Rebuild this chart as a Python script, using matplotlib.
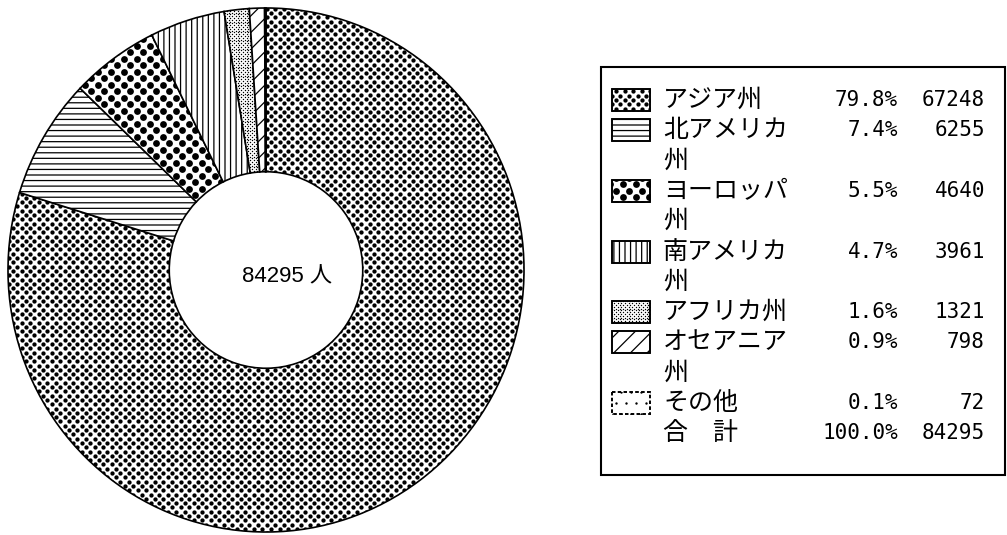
import numpy as np
import matplotlib
matplotlib.use('Agg')
import matplotlib.pyplot as plt
from matplotlib.patches import Rectangle

# ---- data ----
legend_labels = ['アジア州', '北アメリカ\n州', 'ヨーロッパ\n州', '南アメリカ\n州',
                 'アフリカ州', 'オセアニア\n州', 'その他']
counts = [67248, 6255, 4640, 3961, 1321, 798, 72]
percents = [79.8, 7.4, 5.5, 4.7, 1.6, 0.9, 0.1]
total_label = '合　計'
total_pct = 100.0
total_count = 84295
center_text = '84295 人'

# ---- styles: ('dots', spacing, row height, dot diameter) or ('hatch', pattern, lw) ----
patterns = [('dots', 8.6, 4.3, 4.3),
            ('hatch', '---', 0.9),
            ('dots', 13.0, 6.5, 6.8),
            ('hatch', '|||', 0.9),
            ('dots', 3.6, 1.8, 1.4),
            ('hatch', '//', 0.9),
            ('dots', 10.0, 11.0, 2.4)]

JP = ['Noto Sans CJK JP', 'DejaVu Sans']
MONO = ['DejaVu Sans Mono', 'Noto Sans CJK JP']

W, H = 1007, 535
fig = plt.figure(figsize=(W / 100, H / 100), dpi=100)
fig.patch.set_facecolor('white')


def set_hlw(p, lw):
    if hasattr(p, 'set_hatch_linewidth'):
        p.set_hatch_linewidth(lw)


def lattice(x0, x1, y0, y1, a, rowh, ox=0.0, oy=0.0):
    j = np.arange(int(np.floor((y0 - oy) / rowh)) - 1, int(np.ceil((y1 - oy) / rowh)) + 2)
    i = np.arange(int(np.floor((x0 - ox) / a)) - 2, int(np.ceil((x1 - ox) / a)) + 2)
    I, J = np.meshgrid(i, j)
    X = ox + I * a + (J % 2) * a / 2.0
    Y = oy + J * rowh
    return X.ravel(), Y.ravel()


# ---- donut ----
cx, cy, rx, ry = 266, 270, 258, 262
ax = fig.add_axes([(cx - rx) / W, (H - cy - ry) / H, 2 * rx / W, 2 * ry / H])
wedges, _ = ax.pie(counts, startangle=90, counterclock=False, radius=1,
                   colors=['white'] * len(counts),
                   wedgeprops=dict(width=0.625, edgecolor='black', linewidth=1.2))
ax.set_aspect('auto')
ax.set_xlim(-1, 1)
ax.set_ylim(-1, 1)
ax.text((287 - cx) / rx, (cy - 282) / ry, center_text, ha='center', va='baseline',
        fontsize=16, family=['Liberation Sans', 'Noto Sans CJK JP'])

# overlay axes in pixel coordinates (y downward)
lax = fig.add_axes([0, 0, 1, 1])
lax.set_xlim(0, W)
lax.set_ylim(H, 0)
lax.axis('off')
lax.patch.set_alpha(0)


def apply_pattern(patch, pat, bbox, anchor, z):
    if pat[0] == 'hatch':
        patch.set_hatch(pat[1])
        set_hlw(patch, pat[2])
    else:
        _, a, rowh, d = pat
        x0, x1, y0, y1 = bbox
        xs, ys = lattice(x0, x1, y0, y1, a, rowh, anchor[0], anchor[1])
        sc = lax.scatter(xs, ys, s=(0.72 * d) ** 2, c='black', marker='o',
                         linewidths=0, zorder=z)
        sc.set_clip_path(patch)


for w, pat in zip(wedges, patterns):
    bb = w.get_window_extent()
    apply_pattern(w, pat, (bb.x0, bb.x1, H - bb.y1, H - bb.y0), (0.0, 0.0), 2)

# ---- legend ----
lax.add_patch(Rectangle((601, 67), 1005 - 601, 475 - 67, fill=False,
                        edgecolor='black', linewidth=1.5, zorder=3))

y0, dy = 100, 30.3
line = 0
for lab, pct, cnt, pat in zip(legend_labels, percents, counts, patterns):
    y = y0 + dy * line
    ls = (0, (2, 1.5)) if lab == 'その他' else '-'
    r = Rectangle((612, y - 11), 38, 22, facecolor='white', edgecolor='black',
                  linewidth=1.2, zorder=3, linestyle=ls)
    lax.add_patch(r)
    apply_pattern(r, pat, (612, 650, y - 11, y + 11), (612 + 4.0, y), 3.5)
    # border on top of dots
    lax.add_patch(Rectangle((612, y - 11), 38, 22, fill=False, edgecolor='black',
                            linewidth=1.2, zorder=4, linestyle=ls))
    parts = lab.split('\n')
    for k, p in enumerate(parts):
        lax.text(663, y + dy * k, p, ha='left', va='center', fontsize=18, family=JP)
    lax.text(898, y, f'{pct:.1f}%', ha='right', va='center', fontsize=15, family=MONO)
    lax.text(985, y, f'{cnt}', ha='right', va='center', fontsize=15, family=MONO)
    line += len(parts)

y = y0 + dy * line
lax.text(663, y, total_label, ha='left', va='center', fontsize=18, family=JP)
lax.text(898, y, f'{total_pct:.1f}%', ha='right', va='center', fontsize=15, family=MONO)
lax.text(985, y, f'{total_count}', ha='right', va='center', fontsize=15, family=MONO)

fig.savefig('out.png', dpi=100, facecolor='white')
